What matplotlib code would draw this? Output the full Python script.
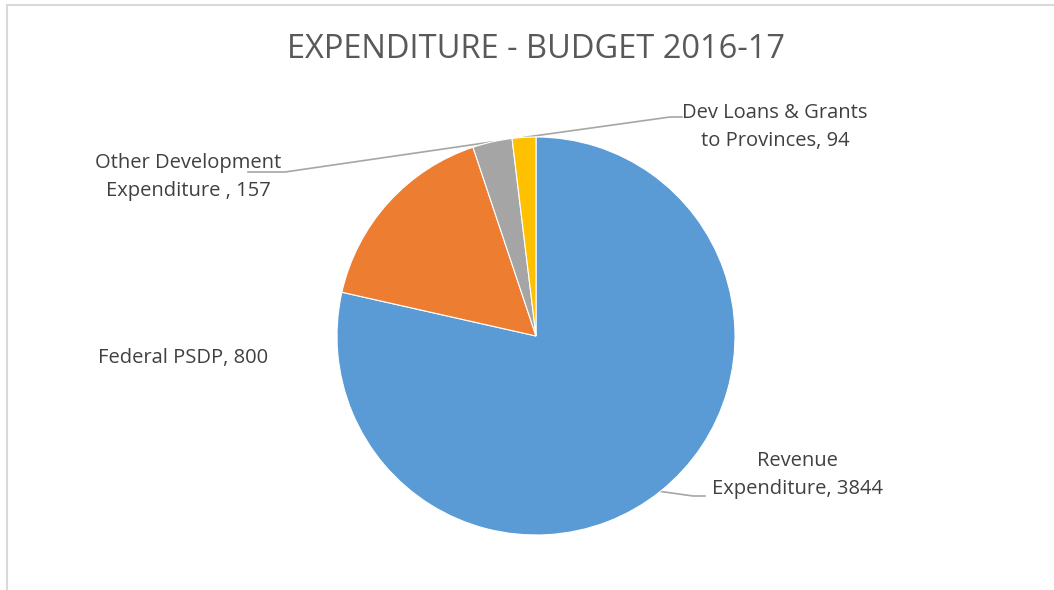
import numpy as np
import matplotlib
matplotlib.use("Agg")
import matplotlib.pyplot as plt
from matplotlib.lines import Line2D

categories = ["Revenue\nExpenditure", "Federal PSDP", "Other Development\nExpenditure ",
              "Dev Loans & Grants\nto Provinces"]
values = [3844, 800, 157, 94]
colors = ["#5B9BD5", "#ED7D31", "#A5A5A5", "#FFC000"]
title = "EXPENDITURE - BUDGET 2016-17"

W, H = 1054, 590
fig = plt.figure(figsize=(W / 100, H / 100), dpi=100)
ax = fig.add_axes([0, 0, 1, 1])

font = "Open Sans"
cx, cy, r = 536, H - 336, 199

wedges, _ = ax.pie(values, colors=colors, startangle=90, counterclock=False,
                   center=(cx, cy), radius=r, frame=True,
                   wedgeprops=dict(edgecolor="white", linewidth=0.8))
ax.set_xlim(0, W)
ax.set_ylim(0, H)
ax.set_aspect("equal")
ax.axis("off")

# chart frame (top and left edges visible)
fig.add_artist(Line2D([7 / W, 1], [1 - 5 / H, 1 - 5 / H], color="#D9D9D9", lw=1.5,
                      transform=fig.transFigure))
fig.add_artist(Line2D([7 / W, 7 / W], [0, 1 - 5 / H], color="#D9D9D9", lw=1.5,
                      transform=fig.transFigure))

ax.text(cx, H - 50, title, ha="center", va="center", fontsize=23.5,
        color="#595959", family=font)

# label placement (pixel coords, y from top) and leader-line elbows
label_pos = [(797, 475), (183, 358), (188, 177), (775, 127)]
elbows = [[(693, 496), (705, 496)], None, [(285, 172), (248, 172)],
          [(670, 117), (682, 117)]]

for w, cat, v, (lx, ly), elb in zip(wedges, categories, values, label_pos, elbows):
    ax.text(lx, H - ly, f"{cat}, {v}", ha="center", va="center", fontsize=14.5,
            color="#404040", family=font, linespacing=1.55)
    if elb is not None:
        ang = np.deg2rad((w.theta1 + w.theta2) / 2)
        sx, sy = cx + r * np.cos(ang), cy + r * np.sin(ang)
        xs = [sx] + [p[0] for p in elb]
        ys = [sy] + [H - p[1] for p in elb]
        ax.plot(xs, ys, color="#A6A6A6", lw=1.2, zorder=0.5)

fig.savefig("out.png", dpi=100, facecolor="white")
